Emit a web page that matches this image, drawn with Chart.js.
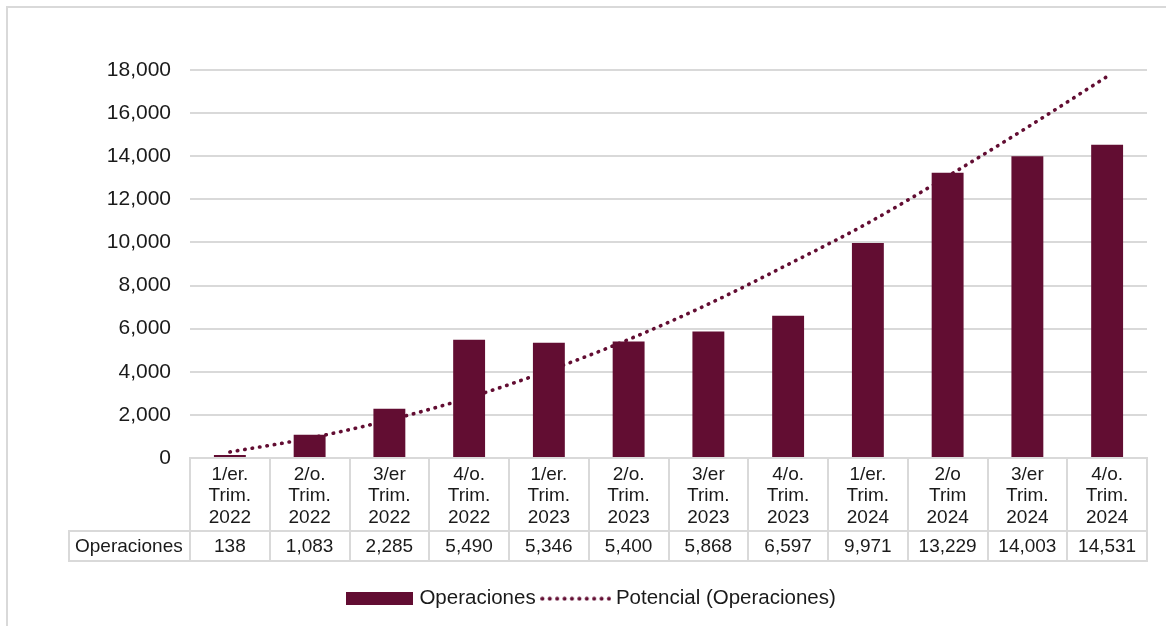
<!DOCTYPE html>
<html>
<head>
<meta charset="utf-8">
<script src="https://cdn.jsdelivr.net/npm/chart.js@4.4.1/dist/chart.umd.min.js"></script>
<style>
  html, body { margin: 0; padding: 0; background: #ffffff; }
  canvas { display: block; }
</style>
</head>
<body>
<canvas id="c" width="1166" height="626"></canvas>
<script>
// ---- data ----
const categories = [
  ["1/er.", "Trim.", "2022"],
  ["2/o.", "Trim.", "2022"],
  ["3/er", "Trim.", "2022"],
  ["4/o.", "Trim.", "2022"],
  ["1/er.", "Trim.", "2023"],
  ["2/o.", "Trim.", "2023"],
  ["3/er", "Trim.", "2023"],
  ["4/o.", "Trim.", "2023"],
  ["1/er.", "Trim.", "2024"],
  ["2/o", "Trim", "2024"],
  ["3/er", "Trim.", "2024"],
  ["4/o.", "Trim.", "2024"]
];
const operaciones = [138, 1083, 2285, 5490, 5346, 5400, 5868, 6597, 9971, 13229, 14003, 14531];
// trend line ("Potencial") values at each category
const potencial = [280, 920, 1760, 2800, 4060, 5500, 7140, 8980, 10900, 13070, 15340, 17700];
const seriesName = "Operaciones";
const trendName = "Potencial (Operaciones)";
const yMin = 0, yMax = 18000, yStep = 2000;

// ---- styles ----
const MAROON = "#620d32";
const GRID = "#d9d9d9";
const TEXT = "#1a1a1a";
const FONT = "'Liberation Sans', Arial, sans-serif";
const fmt = v => v.toLocaleString("en-US");

// legend sample images
function makeBarSample() {
  const c = document.createElement("canvas");
  c.width = 67; c.height = 13;
  const g = c.getContext("2d");
  g.fillStyle = MAROON; g.fillRect(0, 0, 67, 13);
  return c;
}
function makeDotSample() {
  const c = document.createElement("canvas");
  c.width = 71; c.height = 5;
  const g = c.getContext("2d");
  g.fillStyle = MAROON;
  for (let i = 0; i < 10; i++) {
    g.beginPath(); g.arc(2.2 + i * 7.4, 2.5, 2.0, 0, Math.PI * 2); g.fill();
  }
  return c;
}
const barSample = makeBarSample();
const dotSample = makeDotSample();

// table (data row + frame) plugin
const tablePlugin = {
  id: "dataTable",
  beforeDraw(chart) {
    const ctx = chart.ctx;
    ctx.save();
    ctx.fillStyle = GRID;
    ctx.fillRect(6, 6, 1160, 2);
    ctx.fillRect(6, 6, 2, 620);
    ctx.restore();
  },
  afterDraw(chart) {
    const ctx = chart.ctx;
    const xs = chart.scales.x;
    const top = chart.chartArea.bottom;
    const rowTop = top + 73;
    const rowBot = top + 103;
    const left = 69;
    ctx.save();
    ctx.strokeStyle = GRID;
    ctx.lineWidth = 2;
    ctx.beginPath();
    ctx.moveTo(left, rowTop); ctx.lineTo(xs.right + 1, rowTop);
    ctx.moveTo(left, rowBot); ctx.lineTo(xs.right + 1, rowBot);
    ctx.moveTo(left, rowTop - 1); ctx.lineTo(left, rowBot + 1);
    ctx.stroke();
    ctx.fillStyle = TEXT;
    ctx.font = "19px " + FONT;
    ctx.textBaseline = "middle";
    ctx.textAlign = "left";
    const ty = (rowTop + rowBot) / 2 + 1;
    ctx.fillText(seriesName, 75, ty);
    ctx.textAlign = "center";
    operaciones.forEach((v, i) => {
      ctx.fillText(fmt(v), xs.getPixelForValue(i), ty);
    });
    ctx.restore();
  }
};

new Chart(document.getElementById("c"), {
  type: "bar",
  data: {
    labels: categories,
    datasets: [
      {
        type: "bar",
        label: seriesName,
        data: operaciones,
        backgroundColor: MAROON,
        borderWidth: 0,
        barPercentage: 0.4,
        categoryPercentage: 1.0,
        order: 1
      },
      {
        type: "line",
        label: trendName,
        data: potencial,
        borderColor: MAROON,
        backgroundColor: MAROON,
        borderWidth: 3.6,
        borderDash: [0.5, 7],
        borderCapStyle: "round",
        pointRadius: 0,
        pointHoverRadius: 0,
        fill: false,
        cubicInterpolationMode: "monotone",
        order: 2
      }
    ]
  },
  options: {
    responsive: false,
    devicePixelRatio: 1,
    animation: false,
    events: [],
    layout: { padding: { left: 38, right: 19, top: 70, bottom: 7 } },
    plugins: {
      tooltip: { enabled: false },
      title: { display: false },
      legend: {
        display: true,
        position: "bottom",
        labels: {
          usePointStyle: true,
          pointStyleWidth: 60,
          padding: 10,
          color: TEXT,
          font: { family: FONT, size: 20.5 },
          generateLabels: () => [
            { text: seriesName, pointStyle: barSample, fillStyle: MAROON, strokeStyle: MAROON, lineWidth: 0, hidden: false, datasetIndex: 0, fontColor: TEXT },
            { text: trendName, pointStyle: dotSample, fillStyle: MAROON, strokeStyle: MAROON, lineWidth: 0, hidden: false, datasetIndex: 1, fontColor: TEXT }
          ]
        }
      }
    },
    scales: {
      x: {
        offset: true,
        grid: {
          display: true,
          offset: true,
          drawOnChartArea: false,
          drawTicks: true,
          tickLength: 104,
          color: GRID,
          lineWidth: 2
        },
        border: { display: true, color: GRID, width: 2 },
        ticks: {
          autoSkip: false,
          maxRotation: 0,
          minRotation: 0,
          padding: -98,
          color: TEXT,
          font: { family: FONT, size: 19, lineHeight: 1.13 }
        },
        afterFit: s => { s.height = 120.5; }
      },
      y: {
        min: yMin,
        max: yMax,
        grid: { color: GRID, lineWidth: 2, drawTicks: false },
        border: { display: false },
        ticks: {
          stepSize: yStep,
          padding: 19,
          color: TEXT,
          font: { family: FONT, size: 21 },
          callback: v => fmt(v)
        },
        afterFit: s => { s.width = 152; }
      }
    }
  },
  plugins: [tablePlugin]
});
</script>
</body>
</html>
